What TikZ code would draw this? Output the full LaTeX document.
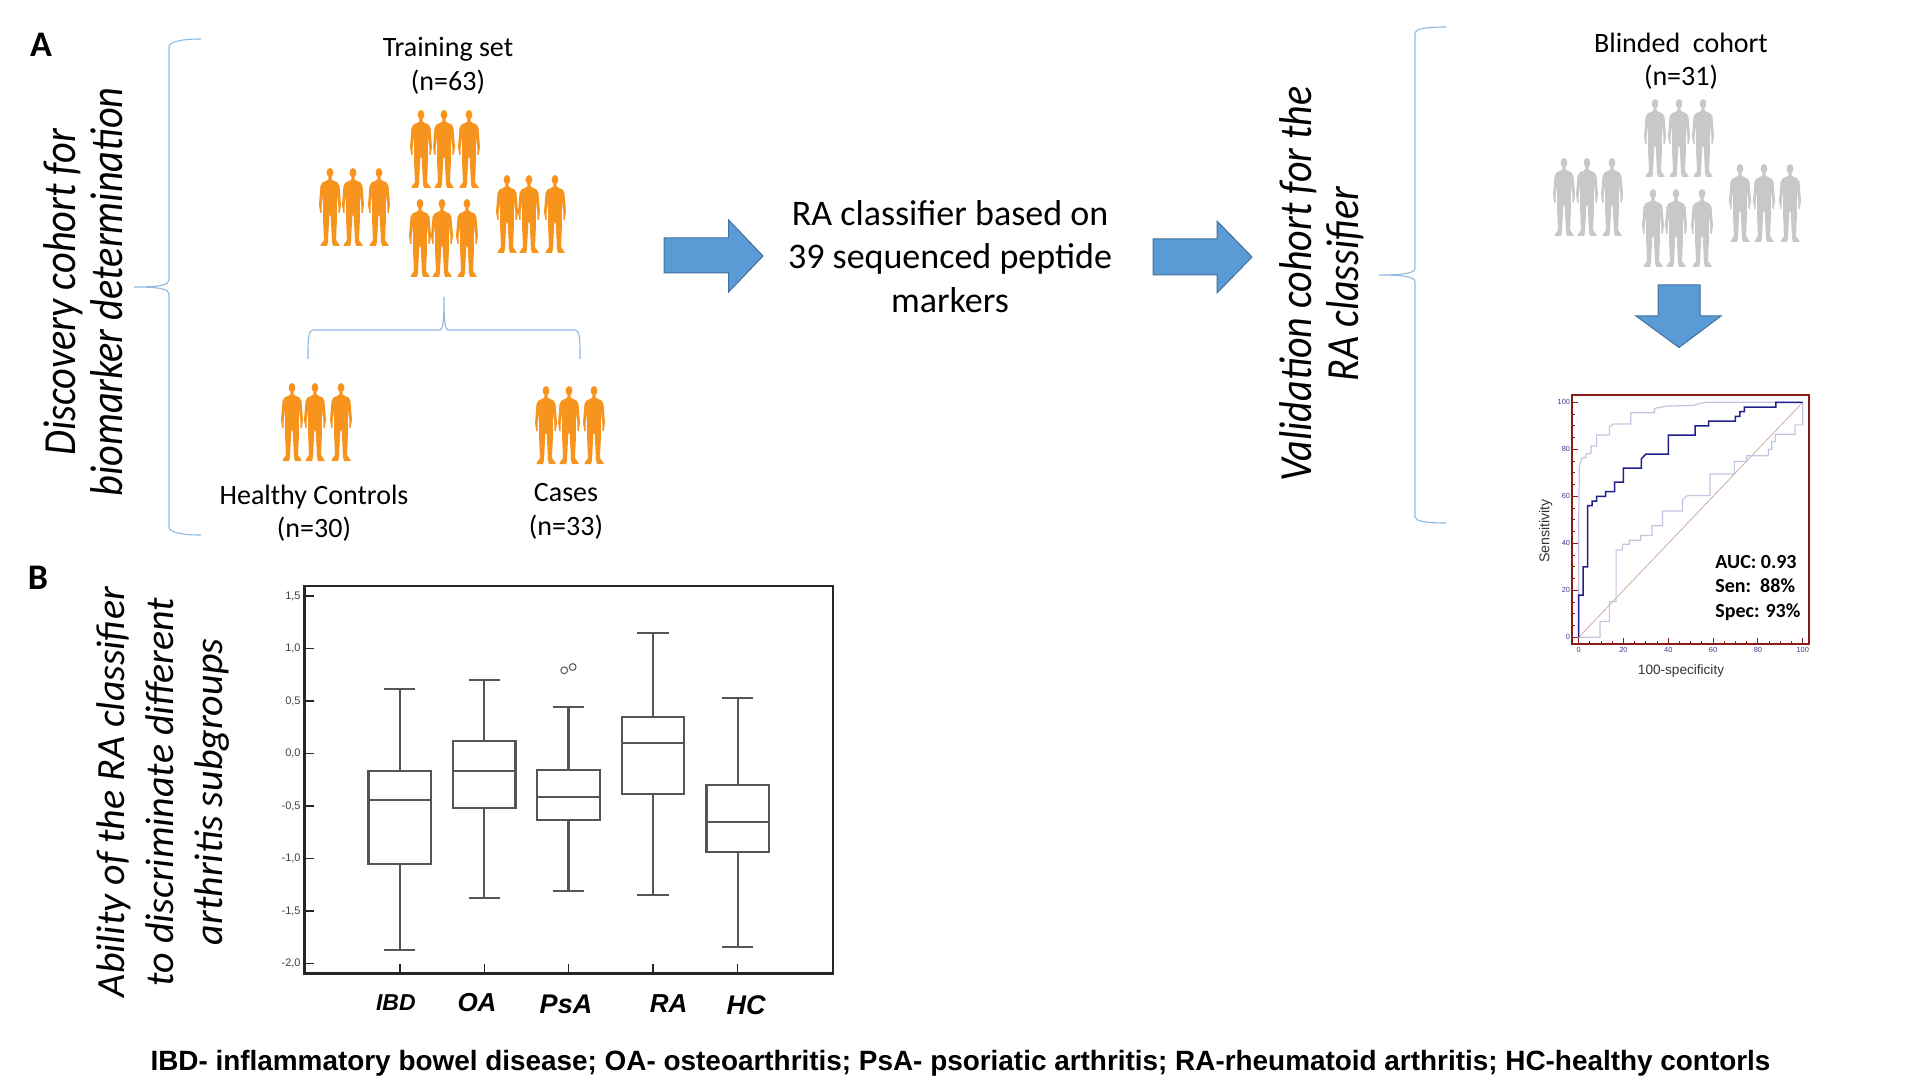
\documentclass[tikz,border=0pt]{standalone}
\usepackage{fontspec}
\setmainfont{Carlito}
\newfontfamily\arialfont{Liberation Sans}
\definecolor{orangeman}{HTML}{F7941D}
\definecolor{greyman}{HTML}{C8C8C8}
\definecolor{bracecol}{HTML}{8DB9E3}
\definecolor{arrowfill}{HTML}{5B9BD5}
\definecolor{arrowedge}{HTML}{41719C}
\definecolor{rocframe}{HTML}{8B1A1A}
\definecolor{rocblue}{HTML}{1F1F8F}
\definecolor{roclight}{HTML}{C4C4E0}
\definecolor{rocdiag}{HTML}{CFA8A8}
\definecolor{roclabel}{HTML}{3C3C8C}
\definecolor{boxcol}{HTML}{555555}
\newcommand{\tsize}[1]{\fontsize{#1}{#1}\selectfont}
\tikzset{
 person/.pic={
  \fill[pic actions] (0,4.7) ellipse [x radius=3.4, y radius=4.7];
  \fill[pic actions] (-1.6,8.5) -- (-1.6,11.5) .. controls (-3,12.5) .. (-7.5,14.5) .. controls (-9,15.5) .. (-9.5,18) -- (-11,37) -- (-9.7,45) -- (-8.5,45) -- (-8.3,37) -- (-7.3,27) -- (-6.8,37) -- (-7,50) -- (-6,72) -- (-9.5,77) -- (-9.5,78) -- (-3,78) -- (-2,74) -- (-0.7,48) -- (0,47) -- (0.7,48) -- (2,74) -- (3,78) -- (9.5,78) -- (9.5,77) -- (6,72) -- (7,50) -- (6.8,37) -- (7.3,27) -- (8.3,37) -- (8.5,45) -- (9.7,45) -- (11,37) -- (9.5,18) .. controls (9,15.5) .. (7.5,14.5) .. controls (3,12.5) .. (1.6,11.5) -- (1.6,8.5) -- cycle;
 },
 orangeperson/.style={fill=orangeman},
 greyperson/.style={fill=greyman},
 bracket/.style={draw=bracecol,line width=0.55pt},
 bigarrow/.style={fill=arrowfill,draw=arrowedge,line width=0.5pt},
 body/.style={font=\tsize{14},inner sep=0pt},
 bigbody/.style={font=\tsize{18},inner sep=0pt,align=center},
 sidetext/.style={font=\fontsize{23}{23.5}\selectfont\itshape,inner sep=0pt,align=center,rotate=90},
 panel/.style={font=\bfseries\tsize{18},inner sep=0pt},
 whisk/.style={draw=boxcol,line width=1.1pt},
 tickm/.style={draw=black!85,line width=0.8pt},
 catlabel/.style={font=\arialfont\bfseries\itshape,inner sep=0pt},
 ylab/.style={font=\arialfont\tsize{5.5},text=black!75,anchor=east,inner sep=0pt},
 roclab/.style={font=\arialfont\tsize{3.7},text=roclabel,inner sep=0pt},
 auc/.style={font=\bfseries\tsize{10},anchor=west,inner sep=0pt},
}
\begin{document}
\begin{tikzpicture}[x=0.5pt,y=-0.5pt]
\useasboundingbox (0,0) rectangle (1920,1080);
\node[panel] (labA) at (41,45) {A};
\node[panel] (labB) at (38,578) {B};
% left brace
\draw[bracket] (201,39) .. controls (180,39) and (169,42) .. (169,47) -- (169,280) .. controls (169,285) and (160,287) .. (134,287) .. controls (160,287) and (169,289) .. (169,294) -- (169,527) .. controls (169,532) and (180,535) .. (201,535);
\node[sidetext,xscale=0.877] (disc) at (83,292) {Discovery cohort for\\biomarker determination};
\node[body] (ts1) at (448,49) {Training set};
\node[body] (ts2) at (448,82) {(n=63)};
\foreach \px in {421,444,469} \pic[orangeperson] at (\px,110) {person};
\foreach \px in {330,353,379} \pic[orangeperson] at (\px,168) {person};
\foreach \px in {420,442,467} \pic[orangeperson] at (\px,199) {person};
\foreach \px in {507,529,555} \pic[orangeperson] at (\px,175) {person};
\foreach \px in {292,315,341} \pic[orangeperson] at (\px,383) {person};
\foreach \px in {546,569,594} \pic[orangeperson] at (\px,386) {person};
% small brace
\draw[bracket] (308,359) .. controls (308,340) and (308,330) .. (313,330) -- (440,330) .. controls (443,330) and (444,320) .. (444,297) .. controls (444,320) and (445,330) .. (448,330) -- (575,330) .. controls (580,330) and (580,340) .. (580,359);
\node[body] (hc1) at (314,497) {Healthy Controls};
\node[body] (hc2) at (314,529) {(n=30)};
\node[body] (ca1) at (566,493) {Cases};
\node[body] (ca2) at (566,527) {(n=33)};
% arrows
\draw[bigarrow] (664,238) -- (728.6,238) -- (728.6,220) -- (763,256) -- (728.6,292) -- (728.6,273) -- (664,273) -- cycle;
\draw[bigarrow] (1153,239) -- (1217,239) -- (1217,221) -- (1252,257) -- (1217,293) -- (1217,275) -- (1153,275) -- cycle;
\draw[bigarrow] (1658,285) -- (1700,285) -- (1700,316) -- (1721,316) -- (1679,347.5) -- (1636,316) -- (1658,316) -- cycle;
\node[bigbody] (c1) at (950,213.6) {RA classifier based on};
\node[bigbody] (c2) at (950,259) {39 sequenced peptide};
\node[bigbody] (c3) at (950,300) {markers};
% right brace
\draw[bracket] (1446,27) .. controls (1425,27) and (1415,29) .. (1415,33) -- (1415,268) .. controls (1415,273) and (1405,275) .. (1379,275) .. controls (1405,275) and (1415,277) .. (1415,282) -- (1415,517) .. controls (1415,521) and (1425,523) .. (1446,523);
\node[sidetext,xscale=0.87] (valid) at (1322,284) {Validation cohort for the\\RA classifier};
\node[body] (bc1) at (1681,43) {Blinded\ \ cohort};
\node[body] (bc2) at (1681,77) {(n=31)};
\foreach \px in {1655,1679,1703} \pic[greyperson] at (\px,99) {person};
\foreach \px in {1564,1587,1612} \pic[greyperson] at (\px,158) {person};
\foreach \px in {1653,1676,1702} \pic[greyperson] at (\px,189) {person};
\foreach \px in {1740,1764,1790} \pic[greyperson] at (\px,164) {person};
% ROC
\begin{scope}[shift={(1578.67,637.33)},x=1.12pt,y=1.175pt]
 \foreach \v in {0,20,...,100}{
  \draw[rocframe,line width=0.55pt] (-2.95,\v) -- ++(2.6,0);
  \node[roclab,anchor=east] (ry\v) at (-3.7,\v) {\v};
  \draw[rocframe,line width=0.55pt] (\v,-3.0) -- ++(0,2.9);
  \node[roclab] (rx\v) at (\v,-5.4) {\v};
 }
 \foreach \v in {5,10,15,25,30,35,45,50,55,65,70,75,85,90,95}{
  \draw[rocframe,line width=0.4pt] (-2.95,\v) -- ++(1.4,0);
  \draw[rocframe,line width=0.4pt] (\v,-3.0) -- ++(0,1.4);
 }
 \draw[rocdiag,line width=0.4pt] (0,0) -- (100,100);
 \draw[roclight,line width=0.6pt] (0,0) -- (0,48.5) -- (0.3,72.6) -- (1.3,76.2) -- (3.3,76.6) -- (3.3,78) -- (5.5,78.3) -- (5.5,81.4) -- (8,81.4) -- (8,86.1) -- (13.7,86.1) -- (13.7,89.6) -- (15.5,90.8) -- (23.2,90.8) -- (23.2,95.6) -- (33.8,95.6) -- (33.8,97.4) -- (39.3,98.4) -- (51.2,98.7) -- (54.2,99.6) -- (57.1,100) -- (100,100);
 \draw[roclight,line width=0.6pt] (0,0) -- (9.5,0) -- (9.5,6.7) -- (13.7,6.7) -- (13.7,15.2) -- (16.7,15.2) -- (16.7,37.2) -- (19.5,37.2) -- (19.5,39.6) -- (22.6,39.6) -- (22.6,41.3) -- (27.7,41.3) -- (27.7,43.3) -- (32.7,43.3) -- (32.7,47.5) -- (37.4,47.5) -- (37.4,53.8) -- (46.3,53.8) -- (46.3,58.4) -- (48.5,60.3) -- (58.6,60.3) -- (58.6,69.5) -- (69.5,69.5) -- (69.5,74.8) -- (75,74.8) -- (75,77.3) -- (84.7,77.3) -- (84.7,80) -- (86.2,80) -- (86.2,83.3) -- (87.8,83.3) -- (87.8,86.4) -- (96.6,86.4) -- (96.6,90.4) -- (100,90.4) -- (100,100);
 \draw[rocblue,line width=0.75pt] (0,0) -- (0,18) -- (2,18) -- (2,30) -- (4,30) -- (4,56) -- (6,56) -- (6,58) -- (8,58) -- (8,60) -- (12,60) -- (12,62) -- (16,62) -- (16,66) -- (20,66) -- (20,72) -- (28,72) -- (28,76) -- (30,78) -- (40,78) -- (40,86) -- (52,86) -- (52,90) -- (58,90) -- (58,92) -- (70,92) -- (70,94) -- (72,94) -- (72,96) -- (74,96) -- (74,98) -- (88,98) -- (88,100) -- (100,100);
\end{scope}
\draw[rocframe,line width=0.85pt] (1572,395) rectangle (1809.3,644.3);
\node[font=\arialfont\tsize{7.1},rotate=90,inner sep=0pt,text=black!80] (sens) at (1545.7,531) {Sensitivity};
\node[font=\arialfont\tsize{6.8},inner sep=0pt,text=black!80] (spec) at (1681,671) {100-specificity};
\node[auc] (a1) at (1715,562) {AUC: 0.93};
\node[auc] (a2) at (1715,586) {Sen:\ \ 88\%};
\node[auc] (a3) at (1715,612) {Spec: 93\%};
% Box plot
\foreach \v/\t in {1.5/{1,5},1/{1,0},0.5/{0,5},0/{0,0},-0.5/{-0,5},-1/{-1,0},-1.5/{-1,5},-2/{-2,0}}{
 \draw[tickm] (304.4,753.5-105*\v) -- ++(10,0);
 \node[ylab] at (301,753.5-105*\v) {\t};
}
\foreach \cx in {399.7,484.3,568.5,653,737.6} \draw[tickm] (\cx,973.3) -- ++(0,-9);
\foreach \cx/\a/\b/\m/\c/\d in {399.7/688.7/770.7/800/863.7/949.7,484.3/679.7/741.3/771/808/898.3,568.5/707.3/769.7/797/819.7/891,653/633/717/743/794.3/894.7,737.6/698.3/785.3/821.7/852.3/946.7}{
 \draw[whisk] (\cx-15.7,\a) -- (\cx+15.7,\a) (\cx,\a) -- (\cx,\b);
 \draw[whisk] (\cx-15.7,\d) -- (\cx+15.7,\d) (\cx,\c) -- (\cx,\d);
 \draw[whisk] (\cx-31.2,\b) rectangle (\cx+31.2,\c);
 \draw[whisk] (\cx-31.2,\m) -- (\cx+31.2,\m);
}
\draw[boxcol,line width=0.5pt] (564.2,670.3) circle [radius=3.4] (572.7,667) circle [radius=3.4];
\draw[black!85,line width=1.2pt] (304.4,585.7) rectangle (833,973.3);
\node[catlabel,font=\arialfont\bfseries\itshape\tsize{11.5}] (ibd) at (395.9,1002.7) {IBD};
\node[catlabel,font=\arialfont\bfseries\itshape\tsize{13}] (oa) at (477,1003) {OA};
\node[catlabel,font=\arialfont\bfseries\itshape\tsize{13.5}] (psa) at (566,1004) {PsA};
\node[catlabel,font=\arialfont\bfseries\itshape\tsize{13}] (ra) at (668.7,1004) {RA};
\node[catlabel,font=\arialfont\bfseries\itshape\tsize{13.5}] (hcl) at (746,1005) {HC};
\node[sidetext,font=\fontsize{20}{24.5}\selectfont\itshape] (abil) at (163,792) {Ability of the RA classifier\\to discriminate different\\arthritis subgroups};
\node[font=\arialfont\bfseries\tsize{13.95},inner sep=0pt] (foot) at (960.5,1063) {IBD- inflammatory bowel disease; OA- osteoarthritis; PsA- psoriatic arthritis; RA-rheumatoid arthritis; HC-healthy contorls};
\end{tikzpicture}
\end{document}
